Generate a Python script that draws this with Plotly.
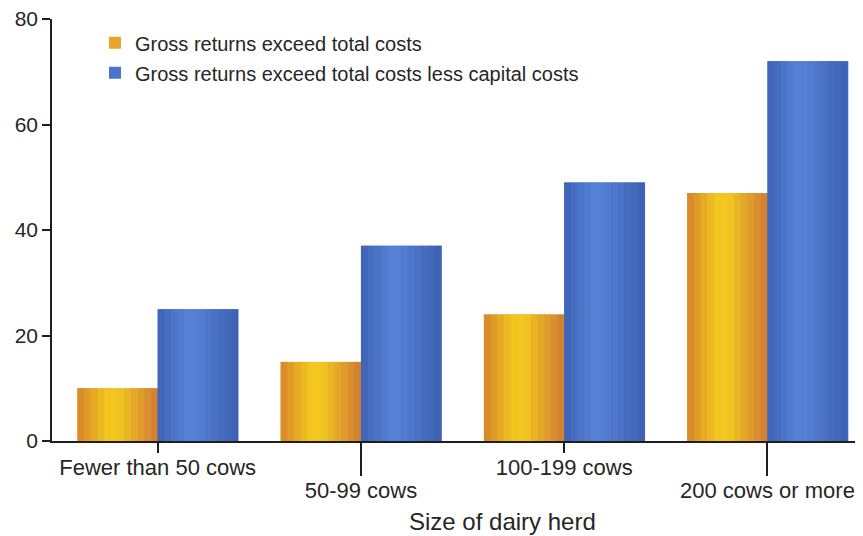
import plotly.graph_objects as go

# ---- data ----
categories = ["Fewer than 50 cows", "50-99 cows", "100-199 cows", "200 cows or more"]
exceed_total_costs = [10, 15, 24, 47]
exceed_less_capital = [25, 37, 49, 72]
series_names = [
    "Gross returns exceed total costs",
    "Gross returns exceed total costs less capital costs",
]
y_ticks = [0, 20, 40, 60, 80]
x_title = "Size of dairy herd"

# ---- styling ----
x_pos = list(range(len(categories)))
BAR_W = 0.395
N_STRIPS = 12
orange_stops = [(0.0, (214, 132, 44)), (0.35, (242, 196, 31)), (0.5, (243, 200, 32)), (1.0, (208, 124, 52))]
blue_stops = [(0.0, (62, 98, 180)), (0.4, (88, 132, 216)), (1.0, (60, 96, 178))]
base_colors = ["#E9A52A", "#4A74CC"]


def interp(stops, t):
    for (t0, c0), (t1, c1) in zip(stops[:-1], stops[1:]):
        if t0 <= t <= t1:
            f = (t - t0) / (t1 - t0) if t1 > t0 else 0
            c = [round(a + (b - a) * f) for a, b in zip(c0, c1)]
            return "rgb(%d,%d,%d)" % tuple(c)
    c = stops[-1][1]
    return "rgb(%d,%d,%d)" % c


fig = go.Figure()
series = [exceed_total_costs, exceed_less_capital]
offsets = [-BAR_W, 0.0]
stops_list = [orange_stops, blue_stops]
xaxes = ["x", "x2"]
for s, vals in enumerate(series):
    fig.add_trace(go.Bar(
        x=x_pos, y=vals, name=series_names[s], width=BAR_W, offset=offsets[s],
        marker=dict(color=base_colors[s], line=dict(width=0)),
        legendgroup=str(s), hoverinfo="skip", xaxis=xaxes[s],
    ))
    sw = BAR_W / N_STRIPS
    for k in range(N_STRIPS):
        t = (k + 0.5) / N_STRIPS
        fig.add_trace(go.Bar(
            x=x_pos, y=vals, width=sw * 1.08, offset=offsets[s] + k * sw,
            marker=dict(color=interp(stops_list[s], t), line=dict(width=0)),
            showlegend=False, legendgroup=str(s), hoverinfo="skip", xaxis=xaxes[s],
        ))

TEXT = "#262626"
LINE = "#1e1e1e"
FONT = "Liberation Sans, Arial, sans-serif"
X_RANGE = [-0.52, 3.47]

# the page body adds an 8px offset, so the figure is sized to fit the window
fig.update_layout(
    width=855, height=528,
    margin=dict(l=44, r=0, t=11, b=95, autoexpand=False),
    barmode="overlay",
    plot_bgcolor="white", paper_bgcolor="white",
    font=dict(family=FONT, color=TEXT),
    showlegend=True,
    legend=dict(
        x=0.053, y=0.99, xanchor="left", yanchor="top",
        bgcolor="rgba(0,0,0,0)", font=dict(size=20, color=TEXT),
        itemwidth=30, tracegroupgap=1,
    ),
    xaxis=dict(
        range=X_RANGE, tickvals=[x_pos[0], x_pos[2]],
        ticktext=[categories[0], categories[2]],
        ticks="outside", ticklen=10, tickwidth=1.5, tickcolor=LINE,
        ticklabelstandoff=-4, ticklabeloverflow="allow",
        showline=True, linecolor=LINE, linewidth=1.5, automargin=False,
        showgrid=False, zeroline=False, tickfont=dict(size=22, color=TEXT),
    ),
    xaxis2=dict(
        overlaying="x", anchor="y", side="bottom",
        range=X_RANGE, tickvals=[x_pos[1], x_pos[3]],
        ticktext=[categories[1], categories[3]],
        ticks="outside", ticklen=34, tickwidth=1.5, tickcolor=LINE,
        ticklabelstandoff=-4, ticklabeloverflow="allow",
        showline=False, showgrid=False, zeroline=False, automargin=False,
        tickfont=dict(size=22, color=TEXT),
    ),
    yaxis=dict(
        range=[0, 80], tickvals=y_ticks,
        ticks="outside", ticklen=8, tickwidth=1.5, tickcolor=LINE,
        ticklabeloverflow="allow",
        showline=True, linecolor=LINE, linewidth=1.5, automargin=False,
        showgrid=False, zeroline=False, tickfont=dict(size=21, color=TEXT),
    ),
    annotations=[dict(
        text=x_title, xref="paper", yref="paper", x=0.556, y=-0.19,
        xanchor="center", yanchor="middle", showarrow=False,
        font=dict(size=24, color=TEXT),
    )],
)

fig.write_html("out.html")
